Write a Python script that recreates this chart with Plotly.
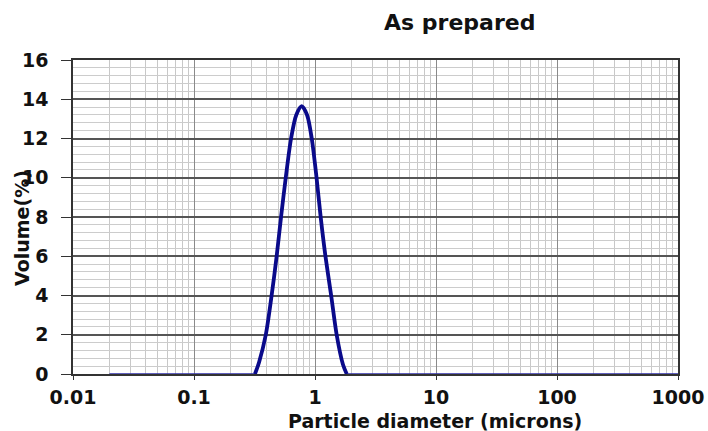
import plotly.graph_objects as go

# Particle size distribution (As prepared)
diameter = [0.02, 0.05, 0.1, 0.2, 0.3, 0.319, 0.345, 0.392, 0.438, 0.482, 0.524, 0.573,
            0.634, 0.70, 0.776, 0.86, 0.94, 1.03, 1.114, 1.22, 1.36, 1.51, 1.70, 1.83,
            2.0, 5.0, 10, 100, 1000]
volume = [0, 0, 0, 0, 0, 0, 0.6, 2, 4, 6, 8, 10,
          12, 13.2, 13.65, 13.2, 12, 10, 8, 6, 4, 2, 0.5, 0,
          0, 0, 0, 0, 0]

peak_start, peak_end = 5, 23  # indices of the thick peak portion

x_tickvals = [0.01, 0.1, 1, 10, 100, 1000]
x_ticktext = ["0.01", "0.1", "1", "10", "100", "1000"]
y_tickvals = [0, 2, 4, 6, 8, 10, 12, 14, 16]

title_text = "As prepared"
x_title = "Particle diameter (microns)"
y_title = "Volume(%)"

FONT = "DejaVu Sans, Liberation Sans, Arial, sans-serif"
NAVY = "#0a0a8a"

fig = go.Figure()
fig.add_trace(go.Scatter(x=diameter, y=volume, mode="lines",
                         line=dict(color="#2c2ca8", width=1.5),
                         hoverinfo="skip", showlegend=False))
fig.add_trace(go.Scatter(x=diameter[peak_start:peak_end + 1],
                         y=volume[peak_start:peak_end + 1], mode="lines",
                         line=dict(color=NAVY, width=3.8, shape="spline", smoothing=0.8),
                         showlegend=False))

fig.update_layout(
    width=708, height=431,
    margin=dict(l=73, r=30, t=60, b=57, autoexpand=False),
    paper_bgcolor="white", plot_bgcolor="white",
    font=dict(family=FONT, color="#111"),
    showlegend=False,
    xaxis=dict(
        type="log", range=[-2, 3], automargin=False, layer="below traces",
        tickvals=x_tickvals, ticktext=x_ticktext,
        tickfont=dict(size=19, family=FONT, weight="bold", color="#111"),
        ticks="outside", ticklen=4, tickcolor="#333",
        ticklabelstandoff=1,
        showgrid=True, gridcolor="#8a8a8a", gridwidth=1,
        minor=dict(dtick="D1", showgrid=True, gridcolor="#c8c8c8", gridwidth=1, ticks=""),
        showline=True, linecolor="#333", linewidth=1.5, mirror=True,
        zeroline=False,
    ),
    yaxis=dict(
        range=[0, 16], automargin=False,
        tickvals=y_tickvals,
        tickfont=dict(size=19, family=FONT, weight="bold", color="#111"),
        ticks="outside", ticklen=10, tickcolor="#333",
        ticklabelstandoff=9,
        showgrid=True, gridcolor="#555555", gridwidth=1.5,
        minor=dict(dtick=0.4, showgrid=True, gridcolor="#cccccc", gridwidth=1, ticks=""),
        showline=True, linecolor="#333", linewidth=1.5, mirror=True,
        zeroline=False,
    ),
    annotations=[
        dict(text=f"<b>{title_text}</b>", xref="paper", yref="paper",
             x=(459 - 73) / 605, y=(374 - 22) / 314, xanchor="center", yanchor="middle",
             showarrow=False, font=dict(size=22, family=FONT, color="#111")),
        dict(text=f"<b>{x_title}</b>", xref="paper", yref="paper",
             x=(435 - 73) / 605, y=-(421 - 374) / 314, xanchor="center", yanchor="middle",
             showarrow=False, font=dict(size=19, family=FONT, color="#111")),
        dict(text=f"<b>{y_title}</b>", xref="paper", yref="paper",
             x=-(73 - 22) / 605, y=(374 - 228) / 314, xanchor="center", yanchor="middle",
             textangle=-90, showarrow=False, font=dict(size=19, family=FONT, color="#111")),
    ],
)

fig.write_html("out.html")
